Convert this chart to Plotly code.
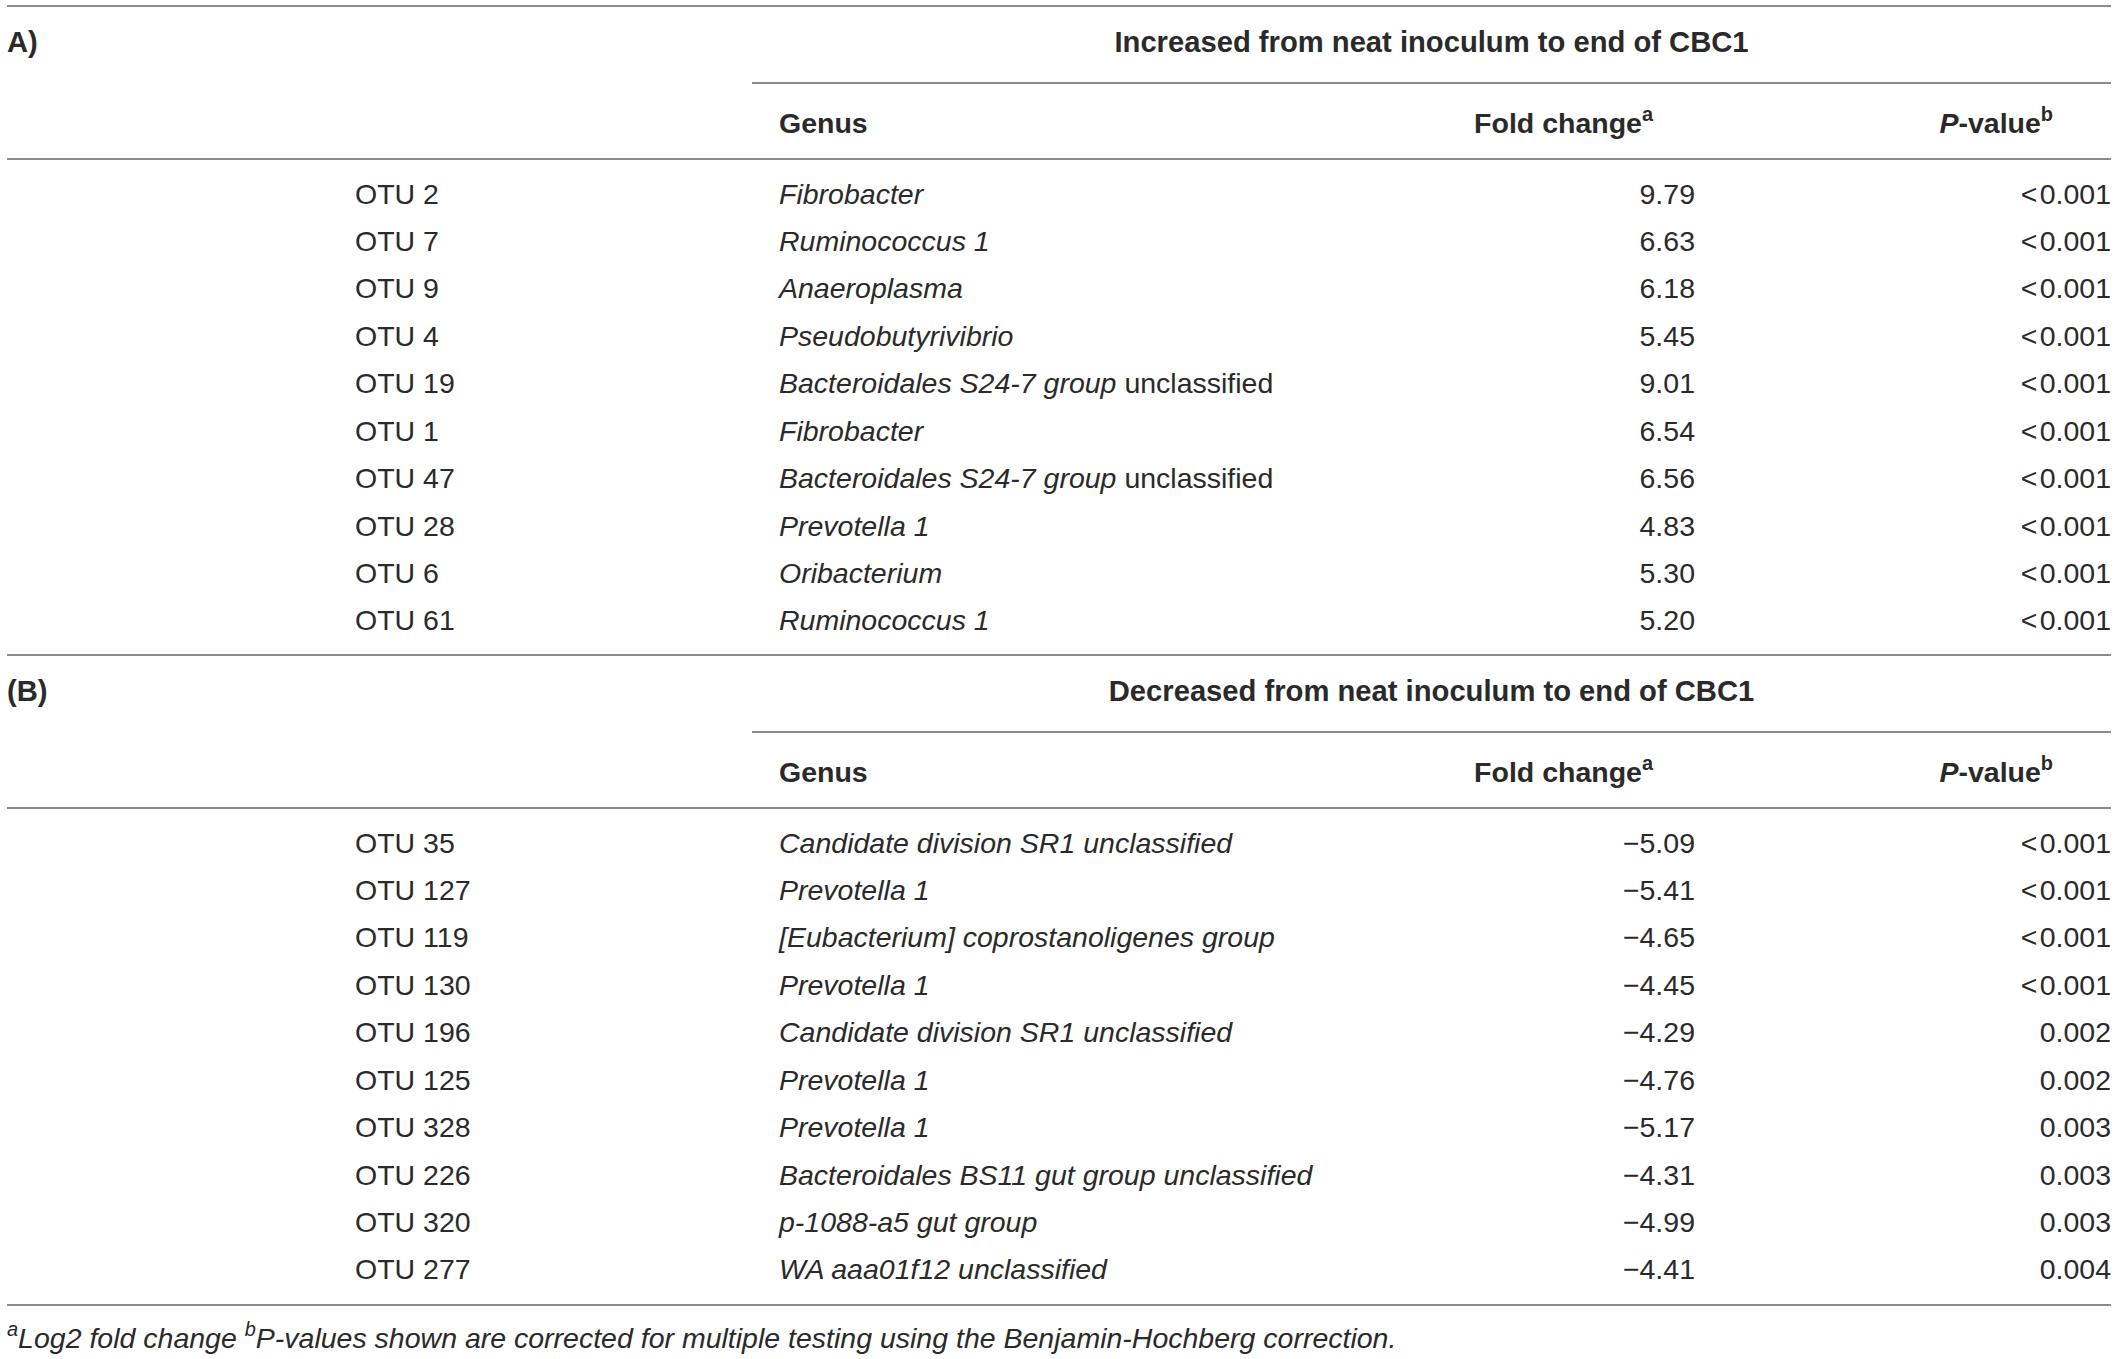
import plotly.graph_objects as go

# section A: increased from neat inoculum to end of CBC1
otu_a = ["OTU 2", "OTU 7", "OTU 9", "OTU 4", "OTU 19", "OTU 1", "OTU 47", "OTU 28", "OTU 6", "OTU 61"]
genus_a = ["<i>Fibrobacter</i>", "<i>Ruminococcus 1</i>", "<i>Anaeroplasma</i>", "<i>Pseudobutyrivibrio</i>",
           "<i>Bacteroidales S24-7 group</i> unclassified", "<i>Fibrobacter</i>",
           "<i>Bacteroidales S24-7 group</i> unclassified", "<i>Prevotella 1</i>", "<i>Oribacterium</i>",
           "<i>Ruminococcus 1</i>"]
fold_a = [9.79, 6.63, 6.18, 5.45, 9.01, 6.54, 6.56, 4.83, 5.30, 5.20]
pval_a = ["<\u200a0.001"] * 10

# section B: decreased
otu_b = ["OTU 35", "OTU 127", "OTU 119", "OTU 130", "OTU 196", "OTU 125", "OTU 328", "OTU 226", "OTU 320", "OTU 277"]
genus_b = ["<i>Candidate division SR1 unclassified</i>", "<i>Prevotella 1</i>",
           "<i>[Eubacterium] coprostanoligenes group</i>", "<i>Prevotella 1</i>",
           "<i>Candidate division SR1 unclassified</i>", "<i>Prevotella 1</i>", "<i>Prevotella 1</i>",
           "<i>Bacteroidales BS11 gut group unclassified</i>", "<i>p-1088-a5 gut group</i>",
           "<i>WA aaa01f12 unclassified</i>"]
fold_b = [-5.09, -5.41, -4.65, -4.45, -4.29, -4.76, -5.17, -4.31, -4.99, -4.41]
pval_b = ["<\u200a0.001"] * 4 + ["0.002", "0.002", "0.003", "0.003", "0.003", "0.004"]

sections = [
    ("<b>A)</b>", "<b>Increased from neat inoculum to end of CBC1</b>", otu_a, genus_a, fold_a, pval_a),
    ("<b>(B)</b>", "<b>Decreased from neat inoculum to end of CBC1</b>", otu_b, genus_b, fold_b, pval_b),
]
footnote = ("<i><sup>a</sup>Log2 fold change <sup>b</sup>P-values shown are corrected for multiple "
            "testing using the Benjamin-Hochberg correction.</i>")

W, H = 2118, 1359
FONT = "Liberation Sans"
TXT = "#2a2a2a"
LINE = "#8a8a8a"
FS = 28.5
FS_HEAD = 29.2

# column anchors (pixels)
x_label, x_otu, x_genus, x_fold, x_p = 7, 355, 779, 1695, 2111
x_fold_hdr, x_p_hdr = 1653, 2053
x_sub0, x_sub1 = 752, 2111
row_gap = 47.43
dy = 3  # text box centre sits a bit above the glyphs

fig = go.Figure()


def add_text(xs, ys, texts, pos, size=FS):
    fig.add_trace(go.Scatter(
        x=xs, y=[v + dy for v in ys], text=texts, mode="text", textposition=pos,
        textfont=dict(family=FONT, size=size, color=TXT),
        hoverinfo="skip", showlegend=False, cliponaxis=False))


def hline(y, x0=7, x1=2111):
    fig.add_shape(type="line", x0=x0, x1=x1, y0=y, y1=y, xref="x", yref="y",
                  line=dict(color=LINE, width=2))


tops = [0, 649]
for top, (lab, head, otu, genus, fold, pval) in zip(tops, sections):
    n = len(otu)
    hline(top + 6)
    add_text([x_label], [top + 42], [lab], "middle right", FS_HEAD)
    add_text([(x_sub0 + x_sub1) / 2], [top + 42], [head], "middle center", FS_HEAD)
    hline(top + 83, x_sub0, x_sub1)
    add_text([x_genus], [top + 123], ["<b>Genus</b>"], "middle right")
    add_text([x_fold_hdr], [top + 123], ["<b>Fold change<sup>a</sup></b>"], "middle left")
    add_text([x_p_hdr], [top + 123], ["<b><i>P</i>-value<sup>b</sup></b>"], "middle left")
    hline(top + 159)
    ys = [top + 193.5 + i * row_gap for i in range(n)]
    add_text([x_otu] * n, ys, otu, "middle right")
    add_text([x_genus] * n, ys, genus, "middle right")
    add_text([x_fold] * n, ys, [f"{v:.2f}".replace("-", "\u2212") for v in fold], "middle left")
    add_text([x_p] * n, ys, pval, "middle left")

hline(1305)
add_text([x_label], [1338], [footnote], "middle right")

fig.update_layout(
    width=W, height=H,
    margin=dict(l=0, r=0, t=0, b=0),
    paper_bgcolor="white", plot_bgcolor="white",
    font=dict(family=FONT, color=TXT),
    xaxis=dict(range=[0, W], visible=False, fixedrange=True),
    yaxis=dict(range=[H, 0], visible=False, fixedrange=True),
)
# drop the default 8px page margin so the figure sits flush in the window
fig.write_html("out.html", config={"displayModeBar": False},
               post_script="document.body.style.margin='0';")
